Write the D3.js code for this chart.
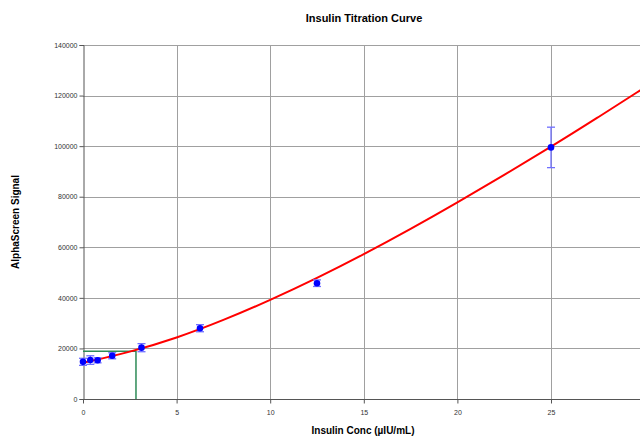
<!DOCTYPE html>
<html>
<head>
<meta charset="utf-8">
<script src="https://cdn.jsdelivr.net/npm/d3@7"></script>
<style>
  body { margin: 0; background: #fff; }
  svg { display: block; font-family: "Liberation Sans", Arial, sans-serif; }
</style>
</head>
<body>
<div id="chart"></div>
<script>
// measured points (mean +/- error)
var concs = [0, 0.39, 0.78, 1.56, 3.125, 6.25, 12.5, 25];
var signals = [14700, 15400, 15300, 17100, 20300, 28000, 45800, 99500];
var errors = [1400, 1700, 1000, 1200, 1600, 1400, 1300, 8000];

// fitted curve
var fitX = [0, 2.5, 5, 7.5, 10, 12.5, 15, 17.5, 20, 22.5, 25, 27.5, 30];
var fitY = [14300, 18500, 24100, 31100, 39100, 47800, 57200, 67200, 77700, 88600, 99700, 111300, 123200];

// read-back of the 2.83 uIU/mL level
var readX = 2.83, readY = 18850;

var xTicks = [0, 5, 10, 15, 20, 25];
var yTicks = [0, 20000, 40000, 60000, 80000, 100000, 120000, 140000];

var width = 640, height = 436;
var margin = {top: 45, left: 83, bottom: 37};

var svg = d3.select("#chart").append("svg")
	.attr("width", width)
	.attr("height", height);

var x = d3.scaleLinear().domain([0, 30]).range([margin.left, 644.6]);
var y = d3.scaleLinear().domain([0, 140000]).range([height - margin.bottom, margin.top]);

// grid
svg.append("g").selectAll("line.h")
	.data(yTicks.slice(1))
	.enter().append("line")
	.attr("x1", margin.left).attr("x2", width)
	.attr("y1", function(d) { return Math.round(y(d)) + 0.5; })
	.attr("y2", function(d) { return Math.round(y(d)) + 0.5; })
	.attr("stroke", "#a0a0a0");

svg.append("g").selectAll("line.v")
	.data(xTicks.slice(1))
	.enter().append("line")
	.attr("y1", y(140000)).attr("y2", y(0))
	.attr("x1", function(d) { return Math.round(x(d)) + 0.5; })
	.attr("x2", function(d) { return Math.round(x(d)) + 0.5; })
	.attr("stroke", "#a0a0a0");

// axes
var yAxis = svg.append("g")
	.attr("transform", "translate(" + (Math.round(x(0)) + 0.5) + ",0)")
	.call(d3.axisLeft(y).tickValues(yTicks).tickFormat(d3.format("d")).tickSize(4).tickPadding(2));
var xAxis = svg.append("g")
	.attr("transform", "translate(0," + (Math.round(y(0)) + 0.5) + ")")
	.call(d3.axisBottom(x).tickValues(xTicks).tickSize(4).tickPadding(7));
xAxis.select(".domain").attr("d", "M" + x(0) + ",0H" + width);

[xAxis, yAxis].forEach(function(a) {
	a.select(".domain").attr("stroke", "#555");
	a.selectAll(".tick line").attr("stroke", "#555");
	a.selectAll(".tick text")
		.attr("fill", "#333")
		.style("font-size", "7px")
		.style("font-family", "Liberation Sans, Arial, sans-serif");
});
xAxis.selectAll(".tick text").attr("dy", "0.71em");

// green read-back lines
svg.append("path")
	.attr("d", "M" + x(0) + "," + y(readY) + "H" + x(readX) + "V" + y(0))
	.attr("fill", "none")
	.attr("stroke", "#2e8b57")
	.attr("stroke-width", 1.5);

// fitted curve
var line = d3.line()
	.x(function(d, i) { return x(fitX[i]); })
	.y(function(d) { return y(d); })
	.curve(d3.curveBasis);

svg.append("path")
	.datum(fitY)
	.attr("d", line)
	.attr("fill", "none")
	.attr("stroke", "#ff0000")
	.attr("stroke-width", 2);

// error bars
var bars = svg.append("g").selectAll("g.err")
	.data(concs)
	.enter().append("g")
	.attr("class", "err")
	.attr("stroke", "#7070ff")
	.attr("stroke-width", 1.3);

bars.append("line")
	.attr("x1", function(d) { return x(d); })
	.attr("x2", function(d) { return x(d); })
	.attr("y1", function(d, i) { return y(signals[i] + errors[i]); })
	.attr("y2", function(d, i) { return y(signals[i] - errors[i]); });
bars.append("line")
	.attr("x1", function(d) { return x(d) - 4; })
	.attr("x2", function(d) { return x(d) + 4; })
	.attr("y1", function(d, i) { return y(signals[i] + errors[i]); })
	.attr("y2", function(d, i) { return y(signals[i] + errors[i]); });
bars.append("line")
	.attr("x1", function(d) { return x(d) - 4; })
	.attr("x2", function(d) { return x(d) + 4; })
	.attr("y1", function(d, i) { return y(signals[i] - errors[i]); })
	.attr("y2", function(d, i) { return y(signals[i] - errors[i]); });

// points
svg.append("g").selectAll("circle")
	.data(concs)
	.enter().append("circle")
	.attr("cx", function(d) { return x(d); })
	.attr("cy", function(d, i) { return y(signals[i]); })
	.attr("r", 3.3)
	.attr("fill", "#0000ff");

// titles
svg.append("text")
	.attr("x", 364).attr("y", 22)
	.attr("text-anchor", "middle")
	.attr("font-weight", "bold")
	.style("font-size", "11px")
	.text("Insulin Titration Curve");

svg.append("text")
	.attr("x", 363).attr("y", 434)
	.attr("text-anchor", "middle")
	.attr("font-weight", "bold")
	.style("font-size", "10px")
	.text("Insulin Conc (µIU/mL)");

svg.append("text")
	.attr("transform", "translate(19,222)rotate(-90)")
	.attr("text-anchor", "middle")
	.attr("font-weight", "bold")
	.style("font-size", "10px")
	.text("AlphaScreen Signal");
</script>
</body>
</html>
